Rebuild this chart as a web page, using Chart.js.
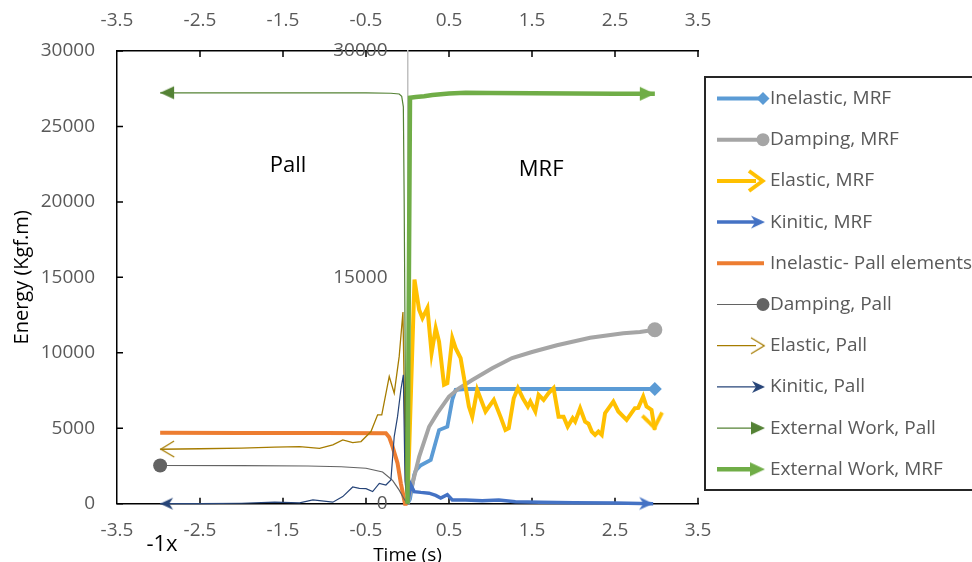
<!DOCTYPE html>
<html>
<head>
<meta charset="utf-8">
<script src="https://cdn.jsdelivr.net/npm/chart.js@4.4.1/dist/chart.umd.min.js"></script>
<style>
  html, body { margin: 0; padding: 0; background: #fff; }
</style>
</head>
<body>
<canvas id="chart" width="972" height="562"></canvas>
<script>
// tick values
const xTicks = [-3.5, -2.5, -1.5, -0.5, 0.5, 1.5, 2.5, 3.5];
const yTicks = [0, 5000, 10000, 15000, 20000, 25000, 30000];
const midTicks = [0, 15000, 30000];

// [time (s), energy (kgf.m)] - Pall series are plotted as -1x time
const inelasticMRF = [[0,0],[0.03,300],[0.08,1900],[0.1,2200],[0.16,2550],[0.28,2900],[0.38,4880],[0.48,5100],[0.54,6900],[0.58,7550],[0.7,7600],[1.5,7600],[2.98,7600]];
const dampingMRF = [[0,0],[0.14,3100],[0.26,5100],[0.36,6000],[0.5,7100],[0.62,7650],[0.78,8200],[1.02,8980],[1.26,9650],[1.5,10050],[1.8,10500],[2.2,11000],[2.6,11300],[2.8,11380],[2.98,11530]];
const elasticMRF = [[0,0],[0.084,14850],[0.14,12850],[0.18,12300],[0.24,12970],[0.29,9980],[0.34,11640],[0.38,10750],[0.44,7880],[0.48,7990],[0.54,10980],[0.58,10310],[0.64,9650],[0.74,6440],[0.78,5770],[0.84,7550],[0.94,6110],[1.04,6880],[1.12,5770],[1.18,4890],[1.22,5000],[1.28,6990],[1.33,7660],[1.39,6990],[1.45,6440],[1.48,6770],[1.54,6110],[1.58,7210],[1.64,6880],[1.7,7330],[1.76,7660],[1.82,5770],[1.88,5770],[1.93,5110],[1.99,5670],[2.02,5440],[2.08,6330],[2.14,5440],[2.18,5300],[2.22,4780],[2.26,4560],[2.3,4780],[2.34,4560],[2.38,6000],[2.48,6770],[2.54,6110],[2.64,5550],[2.74,6330],[2.78,6350],[2.84,7100],[2.88,6440],[2.94,6220],[2.98,4890]];
const kineticMRF = [[0,0],[0.04,1250],[0.08,800],[0.16,750],[0.26,700],[0.34,550],[0.4,380],[0.48,600],[0.54,250],[0.7,250],[0.9,200],[1.1,250],[1.3,130],[1.6,100],[2,60],[2.5,40],[2.96,0]];
const inelasticPall = [[0,0],[-0.03,0],[-0.08,1350],[-0.12,2680],[-0.18,3780],[-0.22,4400],[-0.26,4670],[-1,4680],[-2,4690],[-2.98,4700]];
const dampingPall = [[0,0],[-0.04,300],[-0.1,900],[-0.18,1550],[-0.3,2100],[-0.5,2350],[-0.8,2450],[-1.2,2500],[-2,2520],[-2.98,2530]];
const elasticPall = [[0,0],[-0.02,1000],[-0.055,12700],[-0.1,9760],[-0.16,7330],[-0.22,8430],[-0.31,5890],[-0.36,5890],[-0.44,4780],[-0.56,4120],[-0.66,4050],[-0.78,4230],[-0.9,3900],[-1.06,3670],[-1.3,3780],[-1.6,3750],[-2,3680],[-2.5,3640],[-2.98,3610]];
const kineticPall = [[0,0],[-0.03,1500],[-0.05,8540],[-0.08,7550],[-0.12,5770],[-0.16,4450],[-0.2,1570],[-0.26,1240],[-0.34,1350],[-0.42,800],[-0.5,1000],[-0.58,1020],[-0.66,1110],[-0.78,470],[-0.9,100],[-1.14,250],[-1.3,50],[-1.6,100],[-2,30],[-2.5,0],[-2.98,0]];
const externalPall = [[0,0],[-0.02,3000],[-0.04,20000],[-0.05,26300],[-0.07,27000],[-0.1,27150],[-0.2,27200],[-0.5,27230],[-1.5,27230],[-2.98,27230]];
const externalMRF = [[0,0],[0.03,26900],[0.1,26950],[0.2,27000],[0.3,27080],[0.4,27130],[0.5,27180],[0.7,27230],[1,27220],[1.5,27200],[2,27190],[2.5,27170],[2.98,27160]];

Chart.defaults.font.family = "'Open Sans', sans-serif";

// arrow head image, tip at the centre, pointing right
function arrow(color, kind, len, half, lw) {
  const c = document.createElement('canvas');
  c.width = 48; c.height = 48;
  const g = c.getContext('2d');
  g.fillStyle = color; g.strokeStyle = color;
  g.beginPath();
  if (kind === 'open') {
    g.lineWidth = lw; g.lineJoin = 'miter';
    g.moveTo(24 - len, 24 - half); g.lineTo(24 - lw * 0.6, 24); g.lineTo(24 - len, 24 + half);
    g.stroke();
  } else {
    g.moveTo(24, 24); g.lineTo(24 - len, 24 - half);
    if (kind === 'stealth') g.lineTo(24 - len * 0.7, 24);
    g.lineTo(24 - len, 24 + half); g.closePath(); g.fill();
  }
  return c;
}

function endAngle(c) {
  const d = c.dataset.data, n = d.length;
  const sx = c.chart.scales.x, sy = c.chart.scales.y;
  const dx = sx.getPixelForValue(d[n - 1].x) - sx.getPixelForValue(d[n - 2].x);
  const dy = sy.getPixelForValue(d[n - 1].y) - sy.getPixelForValue(d[n - 2].y);
  return Math.atan2(dy, dx) * 180 / Math.PI;
}

function series(label, pts, color, width, mark, size) {
  const img = typeof mark === 'object' ? mark : null;
  return {
    label: label,
    data: pts.map(p => ({ x: p[0], y: p[1] })),
    borderColor: color,
    backgroundColor: color,
    borderWidth: width,
    tension: 0,
    clip: 10,
    pointStyle: mark || 'circle',
    pointBorderWidth: 0,
    pointRadius: c => (mark && c.dataIndex === c.dataset.data.length - 1) ? size : 0,
    pointRotation: c => img ? endAngle(c) : 0,
    mark: mark, markSize: size
  };
}

const datasets = [
  series('Inelastic, MRF', inelasticMRF, '#5b9bd5', 3.8, 'rectRot', 7),
  series('Damping, MRF', dampingMRF, '#a5a5a5', 4, 'circle', 7.5),
  series('Elastic, MRF', elasticMRF, '#ffc000', 4, arrow('#ffc000', 'open', 16, 10, 4), 8),
  series('Kinitic, MRF', kineticMRF, '#4472c4', 3.5, arrow('#4472c4', 'stealth', 14, 6.5), 8),
  series('Inelastic- Pall elements', inelasticPall, '#ed7d31', 4, null, 0),
  series('Damping, Pall', dampingPall, '#636363', 1.2, 'circle', 7),
  series('Elastic, Pall', elasticPall, '#a67c00', 1.3, arrow('#a67c00', 'open', 14, 8, 1.3), 8),
  series('Kinitic, Pall', kineticPall, '#264478', 1.2, arrow('#264478', 'stealth', 13, 6), 8),
  series('External Work, Pall', externalPall, '#548235', 1.2, arrow('#548235', 'tri', 14, 6.5), 8),
  series('External Work, MRF', externalMRF, '#70ad47', 4.5, arrow('#70ad47', 'tri', 15, 7), 8)
];
datasets.forEach((d, i) => { d.order = -i; });

const innerTicks = {
  id: 'innerTicks',
  beforeDatasetsDraw(chart) {
    const { ctx, chartArea: a, scales } = chart;
    ctx.save();
    ctx.strokeStyle = '#000';
    ctx.lineWidth = 1.5;
    ctx.beginPath();
    xTicks.slice(1).forEach(v => {
      const px = scales.x.getPixelForValue(v);
      ctx.moveTo(px, a.bottom); ctx.lineTo(px, a.bottom - 6);
      ctx.moveTo(px, a.top); ctx.lineTo(px, a.top + 6);
    });
    yTicks.forEach(v => {
      const py = scales.y.getPixelForValue(v);
      ctx.moveTo(a.left, py); ctx.lineTo(a.left + 6, py);
    });
    ctx.stroke();
    ctx.restore();
  }
};

const notes = {
  id: 'notes',
  afterDraw(chart) {
    const { ctx, scales } = chart;
    ctx.save();
    ctx.fillStyle = '#000';
    ctx.textAlign = 'center';
    ctx.textBaseline = 'middle';
    ctx.font = "22px 'Open Sans'";
    ctx.fillText('Pall', scales.x.getPixelForValue(-1.44), scales.y.getPixelForValue(22400));
    ctx.fillText('MRF', scales.x.getPixelForValue(1.61), scales.y.getPixelForValue(22140));
    ctx.fillText('-1x', 162, 545);

    // legend box
    ctx.strokeStyle = '#262626';
    ctx.lineWidth = 2;
    ctx.strokeRect(705, 77, 300, 413);
    ctx.textAlign = 'left';
    ctx.font = "19px 'Open Sans'";
    chart.data.datasets.forEach((ds, i) => {
      const y = 98.5 + i * 41.2;
      ctx.strokeStyle = ds.borderColor;
      ctx.fillStyle = ds.borderColor;
      ctx.lineWidth = ds.borderWidth;
      ctx.beginPath();
      ctx.moveTo(717, y);
      ctx.lineTo(typeof ds.mark === 'object' && ds.mark ? 756 : 764, y);
      ctx.stroke();
      if (ds.mark === 'circle') {
        ctx.beginPath(); ctx.arc(763, y, 6.5, 0, Math.PI * 2); ctx.fill();
      } else if (ds.mark === 'rectRot') {
        ctx.beginPath();
        ctx.moveTo(763, y - 6.5); ctx.lineTo(769.5, y); ctx.lineTo(763, y + 6.5); ctx.lineTo(756.5, y);
        ctx.closePath(); ctx.fill();
      } else if (ds.mark) {
        ctx.drawImage(ds.mark, 765 - 24, y - 24);
      }
      ctx.fillStyle = '#595959';
      ctx.fillText(ds.label, 770, y);
    });
    ctx.restore();
  }
};

const tickFont = { size: 19 };
const numLabel = v => String(v);

new Chart(document.getElementById('chart'), {
  type: 'line',
  data: { datasets: datasets },
  options: {
    responsive: false,
    animation: false,
    devicePixelRatio: 1,
    layout: { padding: { left: 0, right: 274, top: 0, bottom: 0 } },
    plugins: { legend: { display: false }, tooltip: { enabled: false } },
    scales: {
      x: {
        type: 'linear', position: 'bottom', min: -3.5, max: 3.5,
        afterBuildTicks: s => { s.ticks = xTicks.map(v => ({ value: v })); },
        afterFit: s => { s.height = 58.3; },
        ticks: { color: '#595959', font: tickFont, padding: 15, maxRotation: 0, autoSkip: false, callback: numLabel },
        grid: { display: false, drawTicks: false },
        border: { color: '#000', width: 1.5 },
        title: { display: true, text: 'Time (s)', color: '#000', font: { size: 19 }, padding: { top: 0, bottom: -5 } }
      },
      x2: {
        type: 'linear', position: 'top', min: -3.5, max: 3.5,
        afterBuildTicks: s => { s.ticks = xTicks.map(v => ({ value: v })); },
        afterFit: s => { s.height = 51; },
        ticks: { color: '#595959', font: tickFont, padding: 19, maxRotation: 0, autoSkip: false, callback: numLabel },
        grid: { display: false, drawTicks: false },
        border: { color: '#000', width: 1.5 }
      },
      y: {
        type: 'linear', position: 'left', min: 0, max: 30000,
        afterBuildTicks: s => { s.ticks = yTicks.map(v => ({ value: v })); },
        afterFit: s => { s.width = 117; },
        ticks: { color: '#595959', font: tickFont, padding: 22, callback: numLabel },
        grid: { display: false, drawTicks: false },
        border: { color: '#000', width: 1.5 },
        title: { display: true, text: 'Energy (Kgf.m)', color: '#000', font: { size: 20 }, padding: { top: 10, bottom: 0 } }
      },
      // secondary vertical axis crossing at time 0: line here, labels on y3
      y2: {
        type: 'linear', position: { x: 0 }, min: 0, max: 30000,
        afterBuildTicks: s => { s.ticks = midTicks.map(v => ({ value: v })); },
        ticks: { display: false },
        grid: { display: false, drawTicks: false },
        border: { color: '#c0c0c0', width: 1.5 }
      },
      y3: {
        type: 'linear', position: { x: -0.24 }, min: 0, max: 30000,
        afterBuildTicks: s => { s.ticks = midTicks.map(v => ({ value: v })); },
        ticks: { color: '#595959', font: tickFont, callback: numLabel },
        grid: { display: false, drawTicks: false },
        border: { display: false }
      }
    }
  },
  plugins: [innerTicks, notes]
});
</script>
</body>
</html>
